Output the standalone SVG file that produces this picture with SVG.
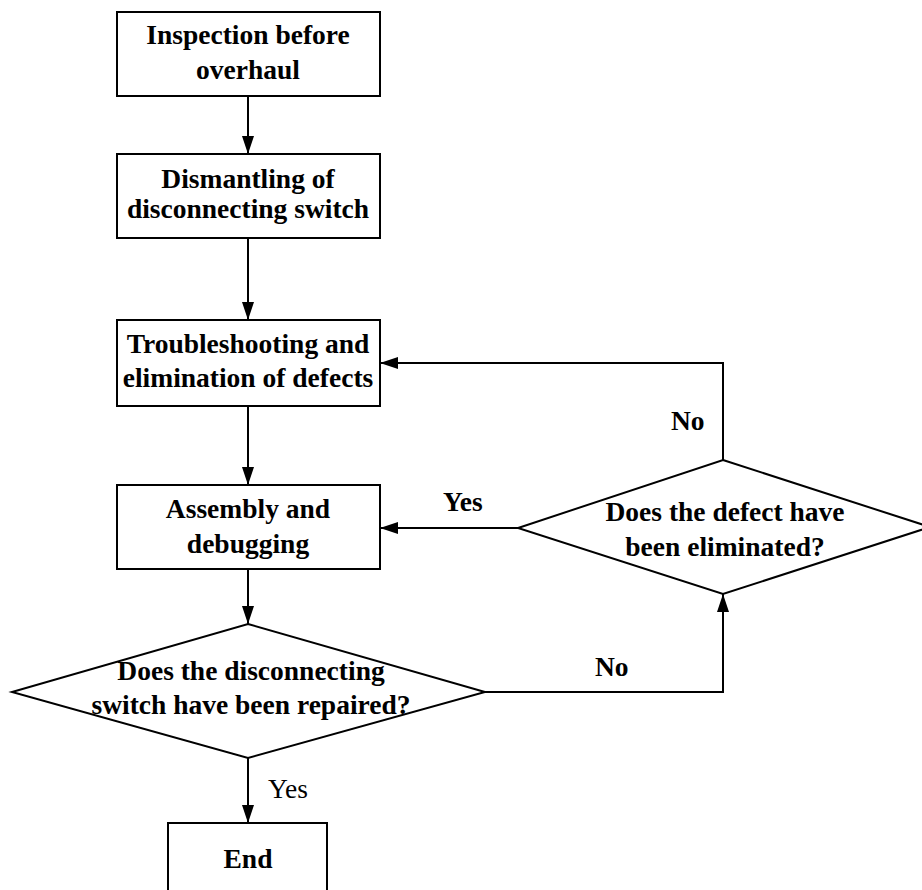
<svg xmlns="http://www.w3.org/2000/svg" width="922" height="890" viewBox="0 0 922 890">
<style>
.n{fill:#fff;stroke:#000;stroke-width:2}
.t{font-family:"Liberation Serif","Times New Roman",serif;font-size:27.5px;font-weight:bold;text-anchor:middle;fill:#000}
.l{font-family:"Liberation Serif","Times New Roman",serif;font-size:27.5px;fill:#000}
.c{fill:none;stroke:#000;stroke-width:2;marker-end:url(#a)}
</style>
<defs>
<marker id="a" viewBox="0 0 18 12" refX="18" refY="6" markerWidth="18" markerHeight="12" markerUnits="userSpaceOnUse" orient="auto">
<path d="M0,0 L18,6 L0,12 Z" fill="#000"/>
</marker>
</defs>
<rect width="922" height="890" fill="#fff"/>
<g id="connectors">
<path class="c" d="M248,96 V154"/>
<path class="c" d="M248,238 V320"/>
<path class="c" d="M248,406 V485"/>
<path class="c" d="M248,569 V624"/>
<path class="c" d="M248,758 V823"/>
<path class="c" d="M485,692 H723 V594"/>
<path class="c" d="M518,528 H380"/>
<path class="c" d="M723,460 V363 H380"/>
<text class="l" x="268" y="798">Yes</text>
<text class="l" x="443" y="511" font-weight="bold">Yes</text>
<text class="l" x="595" y="676" font-weight="bold">No</text>
<text class="l" x="671" y="430" font-weight="bold">No</text>
</g>
<g id="n1">
<rect class="n" x="117" y="12" width="263" height="84"/>
<text class="t" x="248" y="44">Inspection before</text>
<text class="t" x="248" y="79">overhaul</text>
</g>
<g id="n2">
<rect class="n" x="117" y="154" width="263" height="84"/>
<text class="t" x="248" y="188">Dismantling of</text>
<text class="t" x="248" y="218">disconnecting switch</text>
</g>
<g id="n3">
<rect class="n" x="117" y="320" width="263" height="86"/>
<text class="t" x="248" y="353">Troubleshooting and</text>
<text class="t" x="248" y="387">elimination of defects</text>
</g>
<g id="n4">
<rect class="n" x="117" y="485" width="263" height="84"/>
<text class="t" x="248" y="518">Assembly and</text>
<text class="t" x="248" y="553">debugging</text>
</g>
<g id="d1">
<polygon class="n" points="723,460 930,527 723,594 518,528"/>
<text class="t" x="725" y="521">Does the defect have</text>
<text class="t" x="725" y="556">been eliminated?</text>
</g>
<g id="d2">
<polygon class="n" points="248,624 485,692 248,758 12,692"/>
<text class="t" x="251" y="680">Does the disconnecting</text>
<text class="t" x="251" y="714">switch have been repaired?</text>
</g>
<g id="end">
<rect class="n" x="168" y="823" width="159" height="80"/>
<text class="t" x="248" y="868">End</text>
</g>
</svg>
